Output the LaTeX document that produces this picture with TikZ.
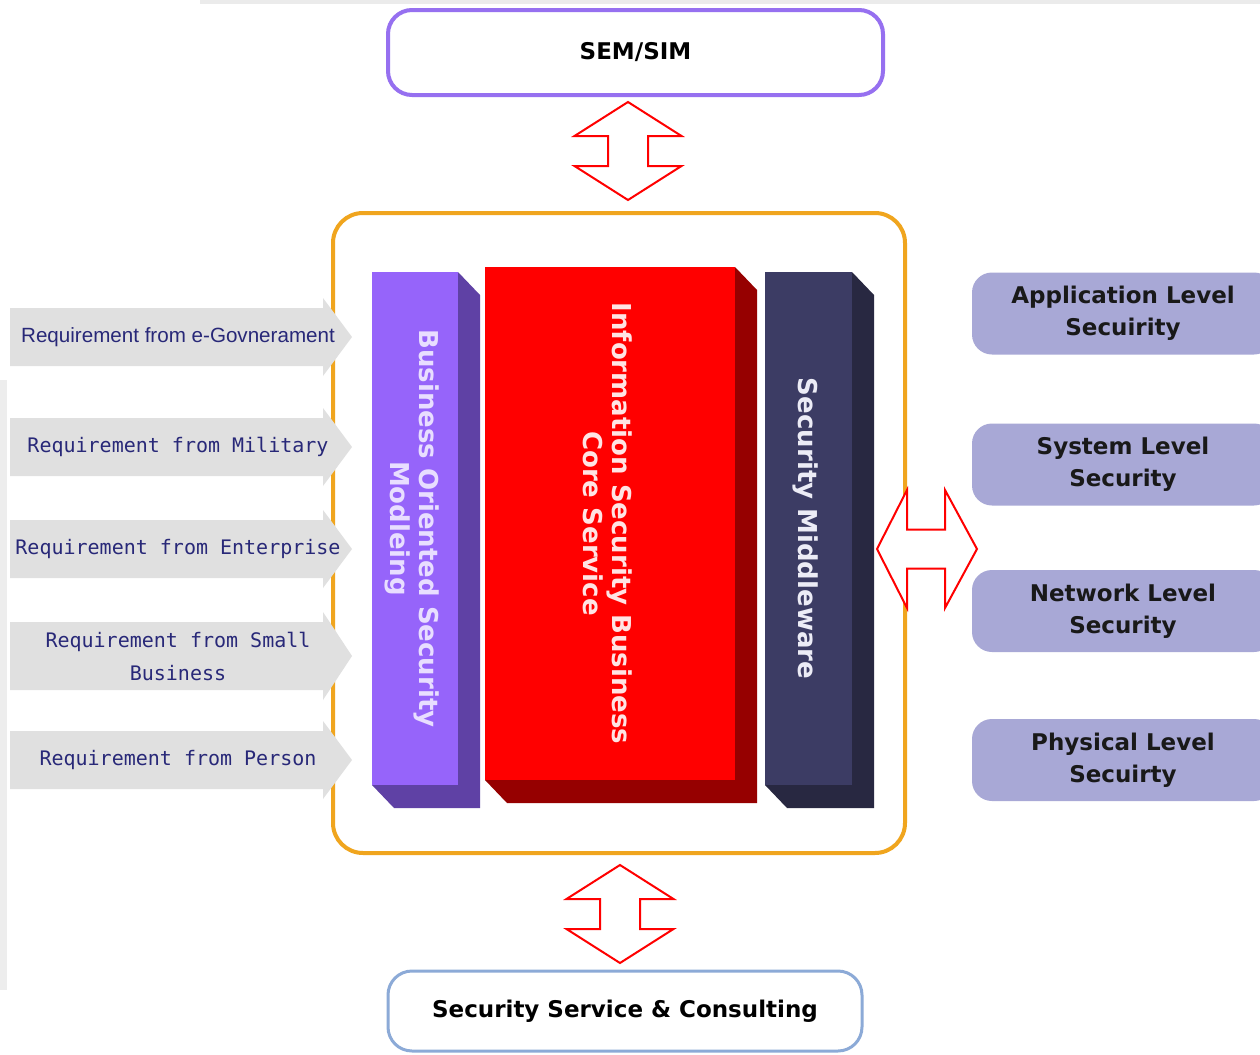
\documentclass[tikz,border=0pt]{standalone}
\usepackage{fontspec}
\setmainfont{Liberation Sans}
\newfontfamily\heavyfont{DejaVu Sans}
\newfontfamily\reqmono{DejaVu Sans Mono}
\usetikzlibrary{calc,positioning}

\definecolor{semborder}{RGB}{150,112,240}
\definecolor{frameorange}{RGB}{240,165,30}
\definecolor{bosfront}{RGB}{150,100,250}
\definecolor{bosside}{RGB}{95,65,165}
\definecolor{corefront}{RGB}{255,0,0}
\definecolor{coreside}{RGB}{150,0,0}
\definecolor{midfront}{RGB}{60,60,100}
\definecolor{midside}{RGB}{40,40,65}
\definecolor{reqgrey}{RGB}{224,224,224}
\definecolor{reqblue}{RGB}{40,40,120}
\definecolor{levelfill}{RGB}{168,168,214}
\definecolor{svcborder}{RGB}{140,170,215}

% front face, then side and bottom faces of a column
\newcommand{\blockcol}[7]{%
  \fill[#7] (#4,#3) -- (#4+22,#3+23) -- (#4+22,#5+23) -- (#2+22,#5+23) -- (#2,#5) -- (#4,#5) -- cycle;
  \fill[#6] (#2,#3) rectangle (#4,#5);
  \coordinate (#1) at ($(#2,#3)!0.5!(#4,#5)$);}

% grey requirement arrow on the left
\newcommand{\reqshape}[3]{%
  \fill[reqgrey] (10,#2-#3) -- (323,#2-#3) -- (323,#2-#3-10) -- (352,#2)
    -- (323,#2+#3+10) -- (323,#2+#3) -- (10,#2+#3) -- cycle;
  \coordinate (#1) at (178,#2);}

\tikzset{
  bigarrow/.style={draw=red, line width=1pt, fill=white, line join=miter},
  vbiarrow/.pic={\path[bigarrow] (0,-49) -- (53.5,-15) -- (20,-15) -- (20,15) -- (53.5,15)
    -- (0,49) -- (-53.5,15) -- (-20,15) -- (-20,-15) -- (-53.5,-15) -- cycle;},
  hbiarrow/.pic={\path[bigarrow] (-50,0) -- (-20,-59) -- (-20,-19.5) -- (18,-19.5) -- (18,-59)
    -- (50,0) -- (18,59) -- (18,19.5) -- (-20,19.5) -- (-20,59) -- cycle;}
}

\begin{document}
\begin{tikzpicture}[x=0.5pt,y=-0.5pt,
    roundbox/.style={draw, line width=2pt, rounded corners=12pt, fill=white, inner sep=0pt},
    heavy/.style={font=\heavyfont\bfseries\fontsize{11.5}{16}\selectfont, align=center},
    levelbox/.style={heavy, fill=levelfill, rounded corners=10pt, text=black!90,
      minimum width=151pt, minimum height=41pt, inner sep=0pt},
    coltext/.style={font=\heavyfont\bfseries\fontsize{13}{14.5}\selectfont, align=center, rotate=-90},
    reqtext/.style={text=reqblue, align=center, font=\reqmono\fontsize{10}{16.5}\selectfont}]
  \path[use as bounding box, clip] (0,0) rectangle (1260,1055);
  \fill[white] (0,0) rectangle (1260,1055);
  \fill[black!8] (200,0) rectangle (1260,4);
  \fill[black!7] (0,380) rectangle (7,990);

  % top and bottom boxes
  \node[roundbox, draw=semborder, minimum width=247.5pt, minimum height=42.5pt, heavy] (sem)
    at (635.5,52.5) {SEM/SIM};
  \node[roundbox, draw=svcborder, line width=1.5pt, minimum width=237pt, minimum height=40pt, heavy] (svc)
    at (625,1011) {Security Service \& Consulting};

  % orange frame
  \draw[frameorange, line width=2pt, rounded corners=15pt] (333,213) rectangle (905,853);
  \coordinate (frame) at (619,533);

  % columns
  \blockcol{bos}{372}{272}{458}{785}{bosfront}{bosside}
  \blockcol{core}{485}{267}{735}{780}{corefront}{coreside}
  \blockcol{mid}{765}{272}{852}{785}{midfront}{midside}
  \node[coltext, text={rgb,255:red,232;green,222;blue,255}] (bostext) at ($(bos)+(-3,0)$)
    {Business Oriented Security\\Modleing};
  \node[coltext, text={rgb,255:red,255;green,228;blue,228}] (coretext) at ($(core)+(-2,0)$)
    {Information Security Business\\Core Service};
  \node[coltext, text={rgb,255:red,236;green,236;blue,246}] (midtext) at ($(mid)+(-3,0)$)
    {Security Middleware};

  % requirements
  \reqshape{egov}{337}{29}
  \reqshape{mil}{447}{29}
  \reqshape{ent}{549}{29}
  \reqshape{small}{656}{34}
  \reqshape{person}{760}{29}
  \node[reqtext, font=\fontsize{10.3}{12}\selectfont] (egovtext) at (egov) {Requirement from e-Govnerament};
  \node[reqtext] (miltext) at (mil) {Requirement from Military};
  \node[reqtext] (enttext) at (ent) {Requirement from Enterprise};
  \node[reqtext] (smalltext) at (small) {Requirement from Small\\Business};
  \node[reqtext] (persontext) at (person) {Requirement from Person};

  % security levels
  \node[levelbox] (app) at (1123,313.5) {Application Level\\Secuirity};
  \node[levelbox] (sys) at (1123,464.5) {System Level\\Security};
  \node[levelbox] (net) at (1123,611) {Network Level\\Security};
  \node[levelbox] (phy) at (1123,760) {Physical Level\\Secuirty};

  % block arrows
  \pic at (628,151) {vbiarrow};
  \pic at (620,914) {vbiarrow};
  \pic at (927,549) {hbiarrow};
\end{tikzpicture}
\end{document}
